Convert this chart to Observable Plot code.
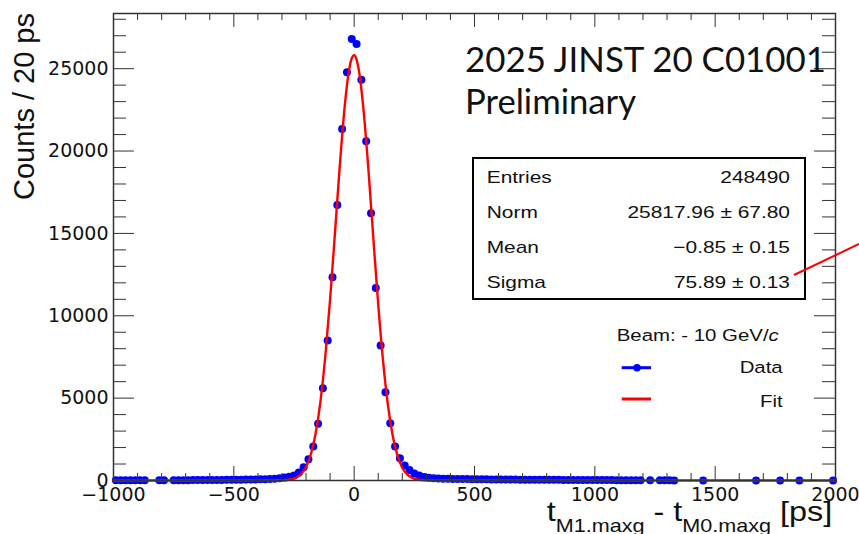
<!DOCTYPE html>
<html><head><meta charset="utf-8">
<script src="https://cdn.jsdelivr.net/npm/d3@7"></script>
<script src="https://cdn.jsdelivr.net/npm/@observablehq/plot@0.6"></script>
<style>body{margin:0;background:#fff} #chart svg{display:block}</style>
</head><body><div id="chart"></div>
<script>
// ---- data (bin centres, 20 ps bins) ----
const dataX = [-990,-970,-950,-930,-910,-890,-870,-810,-790,
  -750,-730,-710,-690,-670,-650,-630,-610,-590,-570,-550,-530,-510,-490,-470,-450,-430,-410,-390,-370,-350,-330,
  -310,-290,-270,-250,-230,-210,-190,-170,-150,-130,-110,-90,-70,-50,-30,-10,
  10,30,50,70,90,110,130,150,170,190,210,230,250,270,290,310,
  330,350,370,390,410,430,450,470,490,510,530,550,570,590,610,630,650,670,690,710,730,750,770,790,810,830,850,870,890,910,930,950,970,990,
  1010,1030,1050,1070,1090,1110,1130,1150,1170,1190,
  1230,1270,1290,1310,1330,1450,1670,1770,1850,1990];
const dataCounts = [12,10,14,11,15,13,12,16,14,
  20,18,22,21,25,24,28,30,29,33,36,40,38,45,50,54,58,65,72,82,95,110,
  140,175,225,300,480,810,1290,2060,3440,5600,8500,12340,16730,21340,24780,26800,
  26500,24330,20590,16220,11690,8190,5360,3480,2060,1350,910,640,430,300,220,170,
  140,125,112,104,98,92,88,84,80,77,74,70,68,65,62,60,58,55,53,51,49,47,45,43,42,40,38,37,35,34,32,31,30,28,
  27,26,24,23,22,21,20,19,18,17,
  10,9,8,8,7,6,5,5,4,4];

// Gaussian fit curve as drawn
const fitX = [-1000,-300,-280,-260,-240,-220,-200,-180,-160,-140,-120,-100,-80,-60,-40,-20,-10,0,10,20,40,60,80,100,120,140,160,180,200,220,240,260,280,300,2000];
const fitY = [0,11,30,76,180,399,825,1592,2864,4807,7528,10997,14987,19055,22601,25009,25631,25816,25555,24862,22336,18721,14637,10677,7266,4613,2732,1509,778,374,168,70,27,10,0];

const xMajorTicks = [-1000,-500,0,500,1000,1500,2000];
const xMinorTicks = [-900,-800,-700,-600,-400,-300,-200,-100,100,200,300,400,600,700,800,900,1100,1200,1300,1400,1600,1700,1800,1900];
const yMajorTicks = [0,5000,10000,15000,20000,25000];
const yMinorTicks = [1000,2000,3000,4000,6000,7000,8000,9000,11000,12000,13000,14000,16000,17000,18000,19000,21000,22000,23000,24000,26000,27000,28000];

const statsLabels = ["Entries","Norm","Mean","Sigma"];
const statsValues = ["248490","25817.96 \u00b1 67.80","\u22120.85 \u00b1 0.15","75.89 \u00b1 0.13"];
const legendTitle = "Beam: - 10 GeV/";
const legendLabels = ["Data","Fit"];
const noteLines = ["2025 JINST 20 C01001","Preliminary"];
const yTitle = "Counts / 20 ps";

// ---- chart ----
const W = 859, H = 534, mL = 113, mR = 24, mT = 13, mB = 54;
const iw = W - mL - mR, ih = H - mT - mB;
const data = dataX.map((x, i) => ({x, y: dataCounts[i]}));
const fit = fitX.map((x, i) => ({x, y: fitY[i]}));
const fmt = d => d < 0 ? "\u2212" + Math.abs(d) : String(d);
const axisColor = "#333";

const plot = Plot.plot({
  width: W, height: H,
  marginLeft: mL, marginRight: mR, marginTop: mT, marginBottom: mB,
  style: {fontFamily: "DejaVu Sans", fontSize: "19px", color: "#111", background: "#fff"},
  x: {domain: [-1000, 2000]},
  y: {domain: [0, 28350]},
  marks: [
    Plot.dot(data, {x: "x", y: "y", r: 4, fill: "#0000ff", stroke: "none"}),
    Plot.line(fit, {x: "x", y: "y", stroke: "#ff0000", strokeWidth: 2.4, curve: "monotone-x"}),
    Plot.tickX(xMinorTicks, {x: d => d, stroke: axisColor, insetTop: ih - 7}),
    Plot.tickX(xMinorTicks, {x: d => d, stroke: axisColor, insetBottom: ih - 7}),
    Plot.tickX(xMajorTicks, {x: d => d, stroke: axisColor, insetTop: ih - 14}),
    Plot.tickX(xMajorTicks, {x: d => d, stroke: axisColor, insetBottom: ih - 14}),
    Plot.tickY(yMinorTicks, {y: d => d, stroke: axisColor, insetRight: iw - 13}),
    Plot.tickY(yMinorTicks, {y: d => d, stroke: axisColor, insetLeft: iw - 13}),
    Plot.tickY(yMajorTicks, {y: d => d, stroke: axisColor, insetRight: iw - 21}),
    Plot.tickY(yMajorTicks, {y: d => d, stroke: axisColor, insetLeft: iw - 21}),
    Plot.frame({stroke: axisColor, strokeWidth: 1.5}),
    Plot.axisX(xMajorTicks, {tickSize: 0, tickPadding: 7, tickFormat: fmt, fontSize: 19, label: null}),
    Plot.axisY(yMajorTicks, {tickSize: 0, tickPadding: 5, tickFormat: fmt, fontSize: 19, label: null})
  ]
});
document.getElementById("chart").appendChild(plot);

// ---- annotations (text, stats box, legend) ----
const svg = d3.select(plot);
function addText(x, y, str, o = {}) {
  const g = svg.append("g").attr("transform", `translate(${x},${y})` + (o.rotate ? ` rotate(${o.rotate})` : "") + ` scale(${o.sx || 1},1)`);
  const t = g.append("text")
    .attr("font-family", o.family || "Liberation Sans")
    .attr("font-size", o.size || 17)
    .attr("text-anchor", o.anchor || "start")
    .attr("fill", o.fill || "#111");
  if (str !== null) t.text(str);
  if (o.len) t.attr("textLength", o.len).attr("lengthAdjust", "spacingAndGlyphs");
  return t;
}

// y title
addText(34, 13, yTitle, {size: 29, anchor: "end", rotate: -90});

// x title with subscripts
const xt = addText(546.7, 521, null, {size: 27, sx: 1.2});
xt.append("tspan").text("t");
xt.append("tspan").attr("font-size", 18).attr("dy", 11).text("M1.maxg");
xt.append("tspan").attr("dy", -11).text(" - t");
xt.append("tspan").attr("font-size", 18).attr("dy", 11).text("M0.maxg");
xt.append("tspan").attr("dy", -11).text(" [ps]");

// journal note
addText(465, 72, noteLines[0], {family: "Lato", size: 35, len: 361});
addText(465, 114, noteLines[1], {family: "Lato", size: 35, len: 171});

// stats box
svg.append("rect").attr("x", 473).attr("y", 158).attr("width", 332).attr("height", 141)
  .attr("fill", "#fff").attr("stroke", "#000").attr("stroke-width", 2);
const rowBase = [183.3, 218.2, 253, 287.8];
statsLabels.forEach((s, i) => addText(486.7, rowBase[i], s, {size: 17, sx: 1.23}));
statsValues.forEach((s, i) => addText(790, rowBase[i], s, {size: 17, sx: 1.23, anchor: "end"}));

// pointer line
svg.append("line").attr("x1", 794).attr("y1", 275).attr("x2", 859).attr("y2", 244)
  .attr("stroke", "#ff0000").attr("stroke-width", 2);

// legend
const lt = addText(616.7, 340.7, legendTitle, {size: 17, sx: 1.2});
lt.append("tspan").attr("font-style", "italic").text("c");
addText(782.7, 373.3, legendLabels[0], {size: 17, sx: 1.2, anchor: "end"});
addText(782.7, 406.7, legendLabels[1], {size: 17, sx: 1.2, anchor: "end"});
svg.append("line").attr("x1", 621.7).attr("x2", 651).attr("y1", 367.7).attr("y2", 367.7)
  .attr("stroke", "#0000ff").attr("stroke-width", 3);
svg.append("circle").attr("cx", 637).attr("cy", 367.7).attr("r", 3.8).attr("fill", "#0000ff");
svg.append("line").attr("x1", 621.7).attr("x2", 651).attr("y1", 399).attr("y2", 399)
  .attr("stroke", "#ff0000").attr("stroke-width", 3);
</script>
</body></html>
